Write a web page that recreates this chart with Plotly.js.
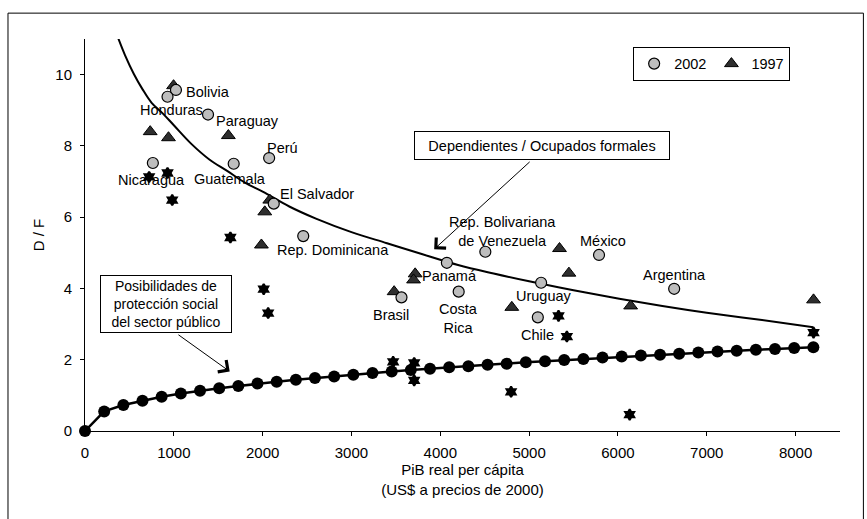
<!DOCTYPE html>
<html><head><meta charset="utf-8">
<script src="https://cdn.plot.ly/plotly-3.0.1.min.js"></script>
<style>html,body{margin:0;padding:0;background:#fff}#chart{width:867px;height:519px}</style>
</head><body><div id="chart"></div>
<script>
// ---- data ----
const countries2002 = ['Bolivia','Honduras','Paraguay','Perú','Guatemala','Nicaragua','El Salvador','Rep. Dominicana','Panamá','Brasil','Costa Rica','Rep. Bolivariana de Venezuela','México','Uruguay','Chile','Argentina'];
const gdp2002 = [1024,929,1385,2073,1674,764,2125,2457,4074,3563,4207,4507,5787,5135,5098,6633];
const df2002  = [9.57,9.38,8.88,7.66,7.50,7.52,6.38,5.47,4.72,3.75,3.91,5.03,4.94,4.16,3.19,3.99];

const gdp1997 = [997,734,940,1614,2080,2024,1986,3480,3717,3699,4805,5342,5448,6143,8202];
const df1997  = [9.69,8.40,8.23,8.29,6.48,6.15,5.22,3.91,4.41,4.24,3.47,5.12,4.43,3.51,3.68];

const gdpStar = [722,929,982,1637,2012,2062,3469,3706,3706,4797,5331,5425,6132,8202];
const dfStar  = [7.13,7.24,6.48,5.43,3.98,3.31,1.94,1.91,1.42,1.10,3.23,2.65,0.46,2.76];

const curveX = [370,450,550,650,750,880,1000,1200,1400,1600,1800,2000,2300,2600,3000,3400,3800,4200,4600,5000,5500,6000,6500,7000,7600,8200];
const curveY = [11.05,10.55,10.02,9.58,9.21,8.90,8.58,8.05,7.62,7.30,6.97,6.72,6.30,5.96,5.58,5.27,4.96,4.66,4.42,4.20,3.95,3.72,3.51,3.32,3.12,2.91];

const publicX = [0,216,432,647,863,1079,1295,1511,1726,1942,2158,2374,2589,2805,3021,3237,3453,3668,3884,4100,4316,4532,4747,4963,5179,5395,5611,5826,6042,6258,6474,6689,6905,7121,7337,7553,7768,7984,8200];
const publicY = [0,0.55,0.73,0.85,0.96,1.05,1.13,1.20,1.26,1.33,1.38,1.44,1.49,1.53,1.58,1.63,1.67,1.71,1.75,1.79,1.82,1.86,1.89,1.93,1.96,1.99,2.02,2.06,2.09,2.12,2.14,2.17,2.20,2.23,2.25,2.28,2.30,2.33,2.35];

const xTicks = [0,1000,2000,3000,4000,5000,6000,7000,8000];
const yTicks = [0,2,4,6,8,10];

// label texts and positions (label anchors)
const labelText = ['Bolivia','Honduras','Paraguay','Perú','Nicaragua','Guatemala','El Salvador','Rep. Dominicana','Panamá','Brasil','Costa<br>Rica','Rep. Bolivariana<br>de Venezuela','México','Uruguay','Chile','Argentina'];
const labelX = [1383,974,1834,2229,753,1637,2615,2793,4106,3448,4202,4703,5828,5164,5090,6633];
const labelY = [9.50,9.01,8.69,7.95,7.03,7.06,6.64,5.08,4.35,3.26,3.15,5.61,5.34,3.79,2.70,4.38];

const FONT = '"Liberation Sans", Arial, sans-serif';

const traces = [
  {x: curveX, y: curveY, mode:'lines', line:{color:'#000', width:2, shape:'spline'}, showlegend:false, hoverinfo:'skip', name:'Dependientes / Ocupados formales'},
  {x: publicX, y: publicY, mode:'lines+markers', line:{color:'#000', width:2.5}, marker:{symbol:'circle', size:12, color:'#000'}, showlegend:false, cliponaxis:false, name:'Posibilidades'},
  {x: gdpStar, y: dfStar, mode:'markers', marker:{symbol:'hexagram', size:8, color:'#000', line:{color:'#000', width:2}}, showlegend:false, name:'otros'},
  {x: gdp1997, y: df1997, mode:'markers', name:'1997', legendrank:2, marker:{symbol:'triangle-up', size:12, color:'#2e2e2e', line:{color:'#000', width:1}}},
  {x: gdp2002, y: df2002, mode:'markers', name:'2002', legendrank:1, text: countries2002, marker:{symbol:'circle', size:11, color:'#bdbdbd', line:{color:'#000', width:1.2}}}
];

const annotations = labelText.map((t,i)=>({x:labelX[i], y:labelY[i], text:t, showarrow:false, font:{family:FONT, size:14.5, color:'#000'}, xanchor:'center', yanchor:'middle'}));

annotations.push(
  {x:5141, y:8.01, text:'Dependientes / Ocupados formales', showarrow:false, font:{family:FONT, size:14.5, color:'#000'}, bordercolor:'#000', borderwidth:1, bgcolor:'#fff', width:252, height:25, borderpad:1},
  {x:3931, y:5.10, ax:5023, ay:7.59, axref:'x', ayref:'y', text:'', showarrow:true, arrowhead:4, arrowsize:2.8, arrowwidth:1, arrowcolor:'#000'},
  {x:909, y:3.57, text:'Posibilidades de<br>protección social<br>del sector público', showarrow:false, font:{family:FONT, size:14, color:'#000'}, bordercolor:'#000', borderwidth:1, bgcolor:'#fff', width:128, height:54, borderpad:1},
  {x:1629, y:1.67, ax:1035, ay:2.73, axref:'x', ayref:'y', text:'', showarrow:true, arrowhead:4, arrowsize:2.8, arrowwidth:1, arrowcolor:'#000'}
);

const axCommon = {showgrid:false, zeroline:false, tickcolor:'#000', ticklen:4, tickwidth:1, linecolor:'#000', linewidth:1, tickfont:{family:FONT, size:15, color:'#000'}};

const layout = {
  width:867, height:519,
  margin:{l:85, r:27, t:39, b:88},
  paper_bgcolor:'#fff', plot_bgcolor:'#fff',
  font:{family:FONT, size:14, color:'#000'},
  showlegend:true,
  legend:{orientation:'h', x:0.830, y:0.937, xanchor:'center', yanchor:'middle', bordercolor:'#000', borderwidth:1, bgcolor:'#fff', font:{family:FONT, size:14.5, color:'#000'}},
  xaxis: Object.assign({}, axCommon, {range:[0,8500], tickvals:xTicks, ticks:'outside', showline:true, ticklabelstandoff:4,
    title:{text:'PiB real per cápita<br>(US$ a precios de 2000)', standoff:2, font:{family:FONT, size:15, color:'#000'}}}),
  yaxis: Object.assign({}, axCommon, {range:[0,11], tickvals:yTicks, ticks:'outside', showline:true, ticklabelstandoff:5,
    title:{text:'D / F', standoff:7, font:{family:FONT, size:15, color:'#000'}}}),
  xaxis2: Object.assign({}, axCommon, {overlaying:'x', anchor:'y', side:'bottom', range:[0,8500], tickvals:xTicks, ticks:'inside', showticklabels:false, showline:false}),
  yaxis2: Object.assign({}, axCommon, {overlaying:'y', anchor:'x', side:'left', range:[0,11], tickvals:yTicks, ticks:'inside', showticklabels:false, showline:false}),
  annotations: annotations,
  shapes:[{type:'rect', xref:'paper', yref:'paper', x0:-0.102, x1:1.031, y0:-0.235, y1:1.066, line:{color:'#000', width:1}, fillcolor:'rgba(0,0,0,0)', layer:'below'}]
};

Plotly.newPlot('chart', traces, layout, {displayModeBar:false, staticPlot:true});
</script></body></html>
